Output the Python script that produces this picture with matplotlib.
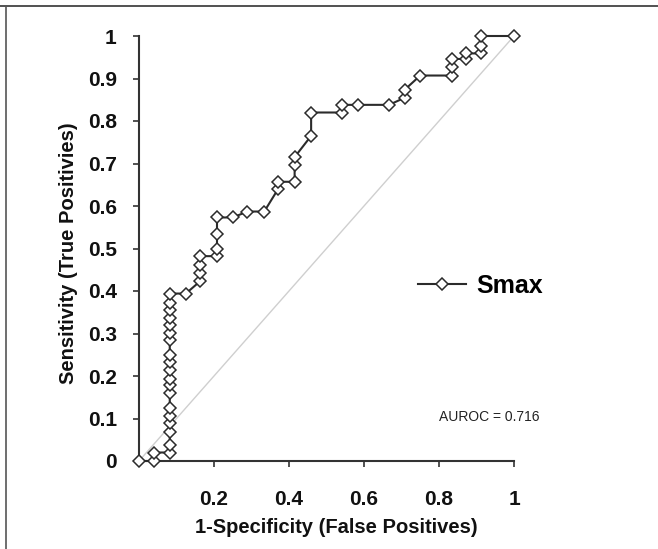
import matplotlib
matplotlib.use("Agg")
import matplotlib.pyplot as plt
from matplotlib.lines import Line2D

plt.rcParams['font.family'] = ['Liberation Sans', 'DejaVu Sans']

# ROC curve points (1-Specificity, Sensitivity)
fpr = [0.0, 0.04, 0.04, 0.082, 0.082, 0.082, 0.082, 0.082, 0.082, 0.082,
       0.082, 0.082, 0.082, 0.082, 0.082, 0.082, 0.082, 0.082, 0.082, 0.082,
       0.082, 0.082, 0.125, 0.163, 0.163, 0.163, 0.163, 0.208, 0.208, 0.208,
       0.208, 0.25, 0.289, 0.334, 0.371, 0.371, 0.415, 0.415, 0.415, 0.459,
       0.459, 0.541, 0.541, 0.585, 0.667, 0.709, 0.709, 0.75, 0.834, 0.834,
       0.834, 0.873, 0.873, 0.913, 0.913, 0.913, 1.0]
tpr = [0.0, 0.0, 0.02, 0.02, 0.038, 0.069, 0.089, 0.106, 0.124, 0.160,
       0.178, 0.194, 0.214, 0.233, 0.250, 0.284, 0.301, 0.319, 0.337, 0.355,
       0.372, 0.394, 0.394, 0.423, 0.442, 0.461, 0.482, 0.482, 0.498, 0.535,
       0.573, 0.573, 0.587, 0.587, 0.640, 0.657, 0.657, 0.697, 0.715, 0.765,
       0.820, 0.820, 0.838, 0.838, 0.838, 0.855, 0.874, 0.907, 0.907, 0.927,
       0.946, 0.946, 0.959, 0.959, 0.977, 1.0, 1.0]

xticks = [0.2, 0.4, 0.6, 0.8, 1.0]
xticklabels = ["0.2", "0.4", "0.6", "0.8", "1"]
yticks = [0, 0.1, 0.2, 0.3, 0.4, 0.5, 0.6, 0.7, 0.8, 0.9, 1.0]
yticklabels = ["0", "0.1", "0.2", "0.3", "0.4", "0.5", "0.6", "0.7", "0.8", "0.9", "1"]
series_name = "Smax"
auroc_text = "AUROC = 0.716"

W, H = 658, 549
fig = plt.figure(figsize=(W / 100, H / 100), dpi=100)
ax = fig.add_axes([139 / W, 1 - 461 / H, 375 / W, 425 / H])

# chance diagonal
ax.plot([0, 1], [0, 1], color='#cfcfcf', lw=1.0, zorder=1)

ax.plot(fpr, tpr, color='#2b2b2b', lw=1.5, marker='D', markersize=6,
        markerfacecolor='white', markeredgecolor='#2b2b2b', markeredgewidth=1.1,
        clip_on=False, zorder=3, label=series_name)

ax.set_xlim(0, 1)
ax.set_ylim(0, 1)
ax.set_xticks(xticks)
ax.set_xticklabels(xticklabels)
ax.set_yticks(yticks)
ax.set_yticklabels(yticklabels)

for s in ['top', 'right']:
    ax.spines[s].set_visible(False)
for s in ['left', 'bottom']:
    ax.spines[s].set_color('#333333')
    ax.spines[s].set_linewidth(1.5)

ax.tick_params(axis='x', direction='out', length=4, width=1.2, color='#333333',
               pad=17, labelsize=15, labelcolor='#111111')
ax.tick_params(axis='y', direction='out', length=4, width=1.2, color='#333333',
               pad=12, labelsize=15, labelcolor='#111111')
for lab in ax.get_xticklabels() + ax.get_yticklabels():
    lab.set_fontweight('bold')

ax.set_xlabel("1-Specificity (False Positives)", fontsize=14.5, fontweight='bold',
              color='#111111')
ax.set_ylabel("Sensitivity (True Positivies)", fontsize=14.5, fontweight='bold',
              color='#111111')
ax.xaxis.set_label_coords((336 - 139) / 375, -(518 - 461) / 425)
ax.yaxis.set_label_coords(-(139 - 78) / 375, 0.49)

leg = ax.legend(loc='center left', bbox_to_anchor=(0.745, 0.412), frameon=False,
                prop={'family': 'Liberation Sans', 'weight': 'bold', 'size': 18},
                handlelength=1.9, handletextpad=0.4, borderpad=0, borderaxespad=0)

ax.text(0.80, 0.103, auroc_text, transform=ax.transAxes, fontsize=10,
        color='#222222', ha='left', va='center')

# outer frame (top and left)
fig.add_artist(Line2D([0, 1], [1 - 6 / H, 1 - 6 / H], transform=fig.transFigure,
                      color='#333333', lw=1.2))
fig.add_artist(Line2D([6 / W, 6 / W], [0, 1 - 6 / H], transform=fig.transFigure,
                      color='#555555', lw=1.2))

fig.savefig("out.png", dpi=100)
